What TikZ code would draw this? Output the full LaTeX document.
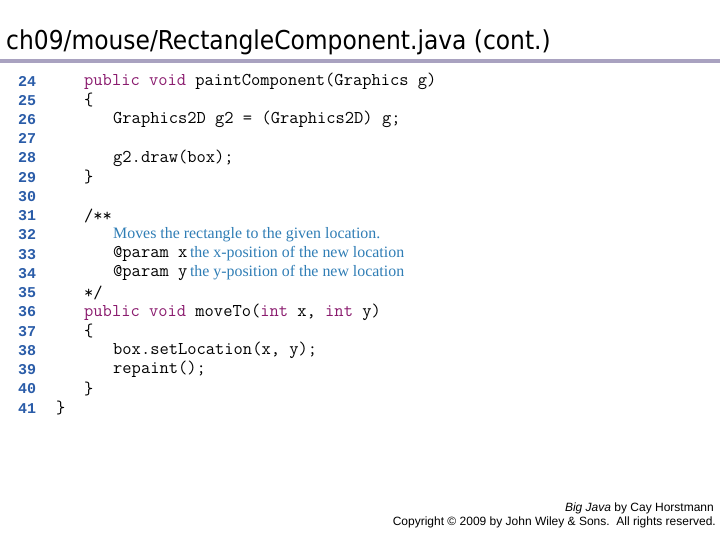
\documentclass[tikz,border=0pt]{standalone}
\usepackage{fontspec}
\setmainfont{Liberation Serif}
\newfontfamily\monof{Latin Modern Mono}
\newfontfamily\numf{Liberation Mono}
\newfontfamily\titlef{DejaVu Sans Condensed}
\newfontfamily\arialf{Liberation Sans}
\definecolor{numc}{HTML}{2A5CA8}
\definecolor{kwc}{HTML}{8A1B6E}
\definecolor{cmc}{HTML}{2F7DB5}
\definecolor{rulec}{HTML}{A9A2C0}
\begin{document}
\begin{tikzpicture}[x=1pt,y=-1pt,
  num/.style={anchor=west,inner sep=0,font=\numf\fontsize{15}{15}\selectfont\bfseries,text=numc},
  code/.style={anchor=west,inner sep=0,font=\monof\fontsize{18}{18}\selectfont},
  cmtext/.style={anchor=west,inner sep=0,font=\fontsize{15.9}{16}\selectfont,text=cmc}]
\useasboundingbox (0,0) rectangle (720,540);
\node[anchor=west,inner sep=0,font=\titlef\fontsize{26}{28}\selectfont] (title) at (6,42) {ch09/mouse/RectangleComponent.java (cont.)};
\draw[rulec,line width=4pt] (0,61) -- (720,61);
\foreach \n [count=\i from 0] in {24,...,41}{
  \node[num] (n\n) at (18,{81+19.24*\i}) {\n};
}
\def\kw#1{\textcolor{kwc}{#1}}
\node[code] (l24) at (84,81) {\kw{public} \kw{void} paintComponent(Graphics g)};
\node[code] (l25) at (84,100.2) {\{};
\node[code] (l26) at (113,119.5) {Graphics2D g2 = (Graphics2D) g;};
\node[code] (l28) at (113,158) {g2.draw(box);};
\node[code] (l29) at (84,177.2) {\}};
\node[code] (l31) at (84,215.7) {/**};
\node[cmtext] (l32) at (113,235) {Moves the rectangle to the given location.};
\node[cmtext] (l33) at (113,254.2) {\textcolor{black}{\monof\fontsize{18}{18}\selectfont @param x}\,the x-position of the new location};
\node[cmtext] (l34) at (113,273.4) {\textcolor{black}{\monof\fontsize{18}{18}\selectfont @param y}\,the y-position of the new location};
\node[code] (l35) at (84,292.7) {*/};
\node[code] (l36) at (84,311.9) {\kw{public} \kw{void} moveTo(\kw{int} x, \kw{int} y)};
\node[code] (l37) at (84,331.1) {\{};
\node[code] (l38) at (113,350.4) {box.setLocation(x, y);};
\node[code] (l39) at (113,369.6) {repaint();};
\node[code] (l40) at (84,388.8) {\}};
\node[code] (l41) at (56,408.1) {\}};
\node[anchor=east,inner sep=0,font=\arialf\fontsize{12}{12}\selectfont] (f1) at (714,508) {\textit{Big Java} by Cay Horstmann};
\node[anchor=east,inner sep=0,font=\arialf\fontsize{12}{12}\selectfont] (f2) at (716,522) {Copyright \textcopyright{} 2009 by John Wiley \& Sons.\ \ All rights reserved.};
\end{tikzpicture}
\end{document}
